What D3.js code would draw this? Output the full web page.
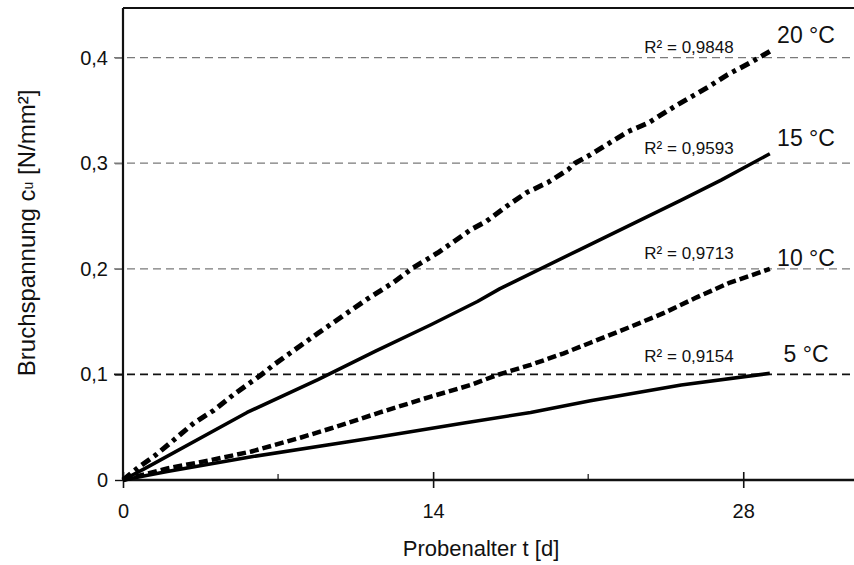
<!DOCTYPE html>
<html>
<head>
<meta charset="utf-8">
<script src="https://cdn.jsdelivr.net/npm/d3@7"></script>
<style>
  body { margin: 0; background: #fff; }
  text { font-family: "Liberation Sans", Arial, sans-serif; fill: #111; }
</style>
</head>
<body>
<div id="chart-area"></div>
<script>
// Probenalter t [d] and Bruchspannung, one pair of arrays per curve
const t20 = [0, 0.7, 1.5, 2.3, 3.2, 4.1, 5.0, 5.6, 6.2, 6.8, 7.6, 8.8, 11.0, 12.2, 13.1, 14.2, 15.7, 16.4, 17.3, 18.2, 19.2, 20.1, 20.4, 21.1, 22.1, 22.8, 23.7, 25.0, 26.4, 27.3, 28.3, 29.2];
const s20 = [0, 0.012, 0.024, 0.038, 0.054, 0.066, 0.081, 0.090, 0.099, 0.109, 0.121, 0.139, 0.171, 0.187, 0.201, 0.215, 0.237, 0.245, 0.259, 0.272, 0.282, 0.294, 0.300, 0.308, 0.321, 0.330, 0.338, 0.355, 0.372, 0.384, 0.395, 0.406];

const t15 = [0, 1.0, 5.6, 8.8, 11.4, 13.9, 16.0, 17.0, 20.6, 25.2, 27.0, 29.2];
const s15 = [0, 0.011, 0.064, 0.095, 0.122, 0.147, 0.169, 0.181, 0.218, 0.265, 0.284, 0.309];

const t10 = [0, 2.0, 4.0, 5.8, 8.0, 9.4, 11.6, 13.9, 15.7, 16.9, 18.4, 19.9, 21.1, 22.9, 24.4, 25.9, 27.4, 28.4, 29.2];
const s10 = [0, 0.011, 0.019, 0.027, 0.040, 0.049, 0.064, 0.079, 0.090, 0.0995, 0.109, 0.120, 0.130, 0.145, 0.158, 0.173, 0.187, 0.194, 0.200];

const t5 = [0, 2.0, 5.8, 10.1, 11.6, 15.4, 18.4, 21.1, 25.2, 29.2];
const s5 = [0, 0.008, 0.022, 0.036, 0.041, 0.054, 0.064, 0.075, 0.090, 0.101];

const tempLabels = ['20 °C', '15 °C', '10 °C', '5 °C'];
const r2Labels = ['R² = 0,9848', 'R² = 0,9593', 'R² = 0,9713', 'R² = 0,9154'];
const yTicks = [0, 0.1, 0.2, 0.3, 0.4];
const xTicks = [0, 14, 28];
const xMinor = [7, 21];

const WIDTH = 854;
const HEIGHT = 565;

const svg = d3.select('#chart-area')
  .append('svg')
  .attr('width', WIDTH)
  .attr('height', HEIGHT)

const x = d3.scaleLinear().domain([0, 33]).range([123, 854])
const y = d3.scaleLinear().domain([0, 0.447]).range([480, 8])

const fmt = d => d === 0 ? '0' : d3.format('.1f')(d).replace('.', ',')

// gridlines (0,1 is black, the rest grey)
svg.selectAll('.grid')
  .data(yTicks.filter(d => d > 0))
  .enter().append('line')
  .attr('x1', 114)
  .attr('x2', WIDTH)
  .attr('y1', d => y(d))
  .attr('y2', d => y(d))
  .attr('stroke', d => d === 0.1 ? '#111' : '#7a7a7a')
  .attr('stroke-width', d => d === 0.1 ? 1.6 : 1.3)
  .attr('stroke-dasharray', '8,5')

// y axis
const yAxis = d3.axisLeft(y).tickValues(yTicks).tickFormat(fmt).tickSize(8).tickPadding(7)
const yG = svg.append('g').attr('transform', `translate(${x(0)},0)`).call(yAxis)
yG.select('.domain').remove()
yG.selectAll('.tick line').attr('stroke', d => (d === 0 || d === 0.1) ? '#111' : '#7a7a7a').attr('stroke-width', 1.4)
yG.selectAll('.tick text').style('font-size', '20px').attr('fill', '#222')

// x axis
const xAxis = d3.axisBottom(x).tickValues(xTicks).tickFormat(d3.format('d')).tickSizeInner(8).tickSizeOuter(0).tickPadding(16)
const xG = svg.append('g').attr('transform', `translate(0,${y(0)})`).call(xAxis)
xG.select('.domain').remove()
xG.selectAll('.tick line').attr('y1', -8).attr('stroke', '#111').attr('stroke-width', 1.6)
xG.selectAll('.tick text').style('font-size', '20px').attr('fill', '#222')

svg.selectAll('.minor')
  .data(xMinor)
  .enter().append('line')
  .attr('x1', d => x(d)).attr('x2', d => x(d))
  .attr('y1', y(0) - 6).attr('y2', y(0))
  .attr('stroke', '#111').attr('stroke-width', 1.2)

// frame: left, bottom, top
svg.append('line').attr('x1', x(0)).attr('x2', x(0)).attr('y1', 8).attr('y2', y(0) + 1)
  .attr('stroke', '#111').attr('stroke-width', 2.2)
svg.append('line').attr('x1', x(0)).attr('x2', WIDTH).attr('y1', y(0)).attr('y2', y(0))
  .attr('stroke', '#111').attr('stroke-width', 2.6)
svg.append('line').attr('x1', x(0)).attr('x2', WIDTH).attr('y1', 8).attr('y2', 8)
  .attr('stroke', '#111').attr('stroke-width', 1.8)

// curves
const series = [
  { t: t20, s: s20, dash: '10,5,4,5', w: 5 },
  { t: t15, s: s15, dash: null, w: 3.5 },
  { t: t10, s: s10, dash: '9,4', w: 4.5 },
  { t: t5, s: s5, dash: null, w: 3.5 }
]

const line = d3.line().x(d => x(d[0])).y(d => y(d[1]))

svg.selectAll('.curve')
  .data(series)
  .enter().append('path')
  .attr('class', 'curve')
  .attr('d', d => line(d.t.map((t, i) => [t, d.s[i]])))
  .attr('fill', 'none')
  .attr('stroke', '#000')
  .attr('stroke-width', d => d.w)
  .attr('stroke-dasharray', d => d.dash)
  .attr('stroke-linejoin', 'round')

// labels at the end of each curve (baselines in data units)
const tempY = [0.414, 0.316, 0.203, 0.112]
const r2Y = [0.404, 0.309, 0.209, 0.112]

svg.selectAll('.temp')
  .data(tempLabels)
  .enter().append('text')
  .attr('x', 806)
  .attr('y', (d, i) => y(tempY[i]))
  .attr('text-anchor', 'middle')
  .style('font-size', '23px')
  .attr('fill', '#222')
  .text(d => d)

svg.selectAll('.r2')
  .data(r2Labels)
  .enter().append('text')
  .attr('x', 689)
  .attr('y', (d, i) => y(r2Y[i]))
  .attr('text-anchor', 'middle')
  .style('font-size', '17px')
  .attr('fill', '#333')
  .text(d => d)

// axis titles
svg.append('text')
  .attr('x', 481)
  .attr('y', 556)
  .attr('text-anchor', 'middle')
  .style('font-size', '22px')
  .attr('fill', '#222')
  .text('Probenalter t [d]')

const yt = svg.append('text')
  .attr('transform', `translate(35,${y(0.234)}) rotate(-90)`)
  .attr('text-anchor', 'middle')
  .style('font-size', '24px')
  .attr('fill', '#222')
yt.append('tspan').text('Bruchspannung c')
yt.append('tspan').attr('dy', -2).style('font-size', '14px').text('u')
yt.append('tspan').attr('dy', 2).text(' [N/mm²]')
</script>
</body>
</html>
